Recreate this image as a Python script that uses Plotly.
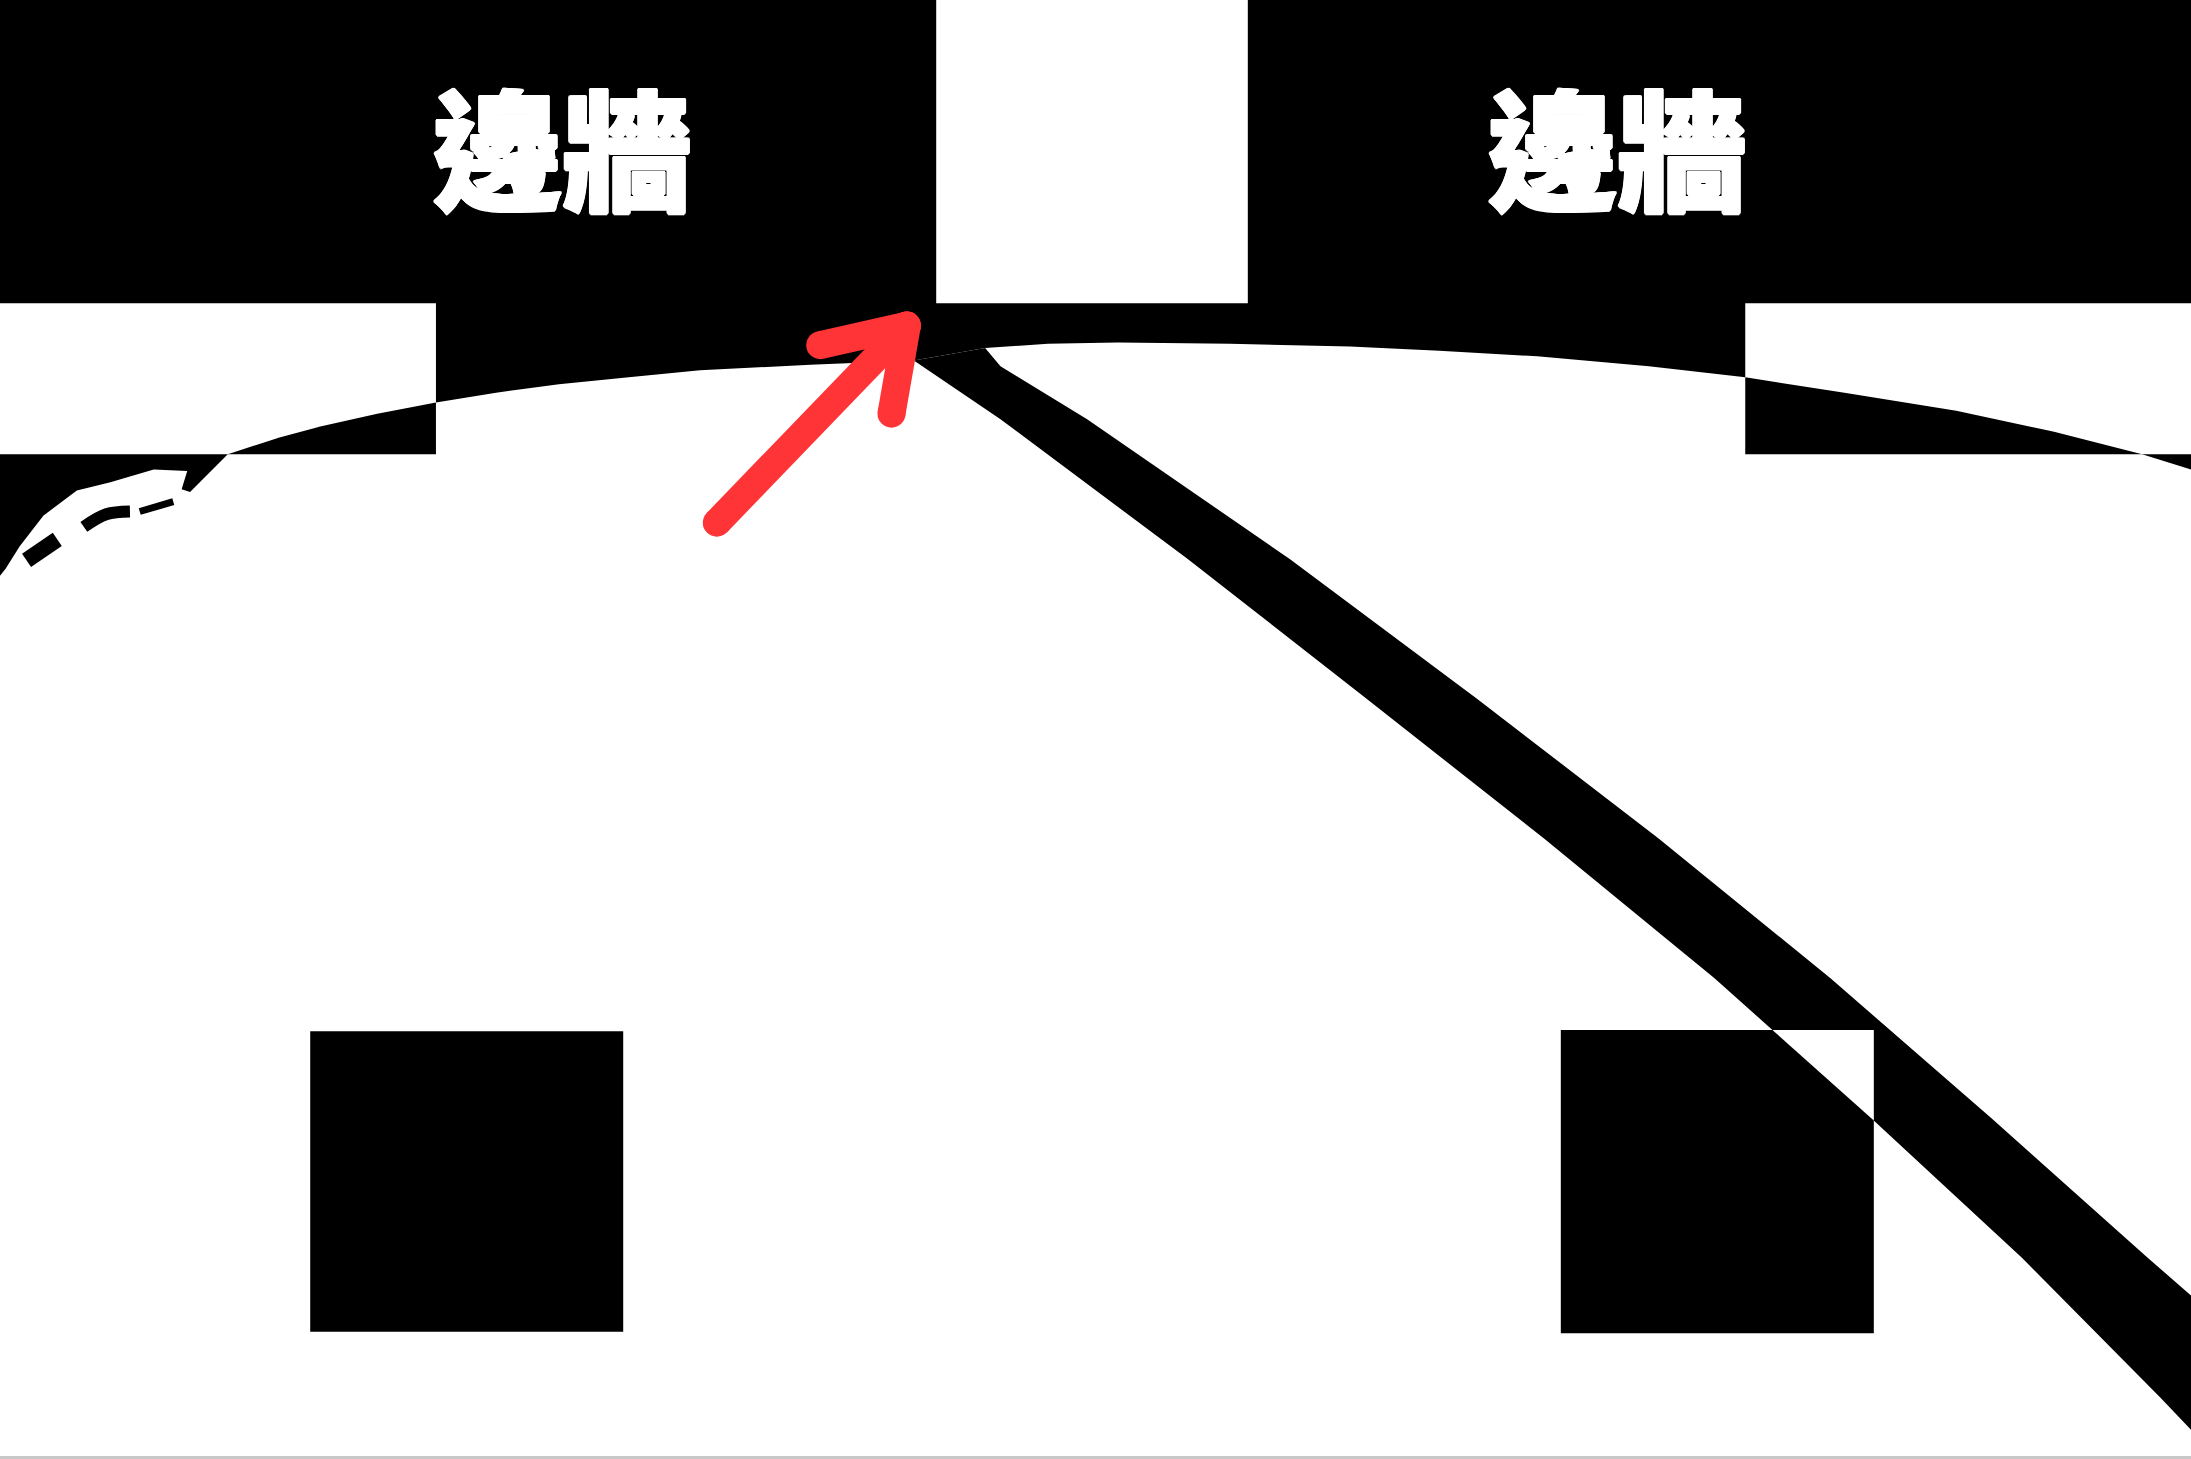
import plotly.graph_objects as go

# picture units: 1568 x 1044 (scaled onto a 2191 x 1459 page)
W, H = 1568, 1044

# wall label
wall_text = "邊牆"
wall_text_x = [402, 1157]
wall_text_y = [102, 102]

# white openings in the black wall
gap_x0 = [0, 1249, 670]
gap_x1 = [312, 1568, 893]
gap_y0 = [217, 217, 0]
gap_y1 = [325, 325, 217]

# ragged left edge of the lit floor
wedge_x = [0, 4, 14, 31, 55, 79, 110, 134, 130, 136, 163]
wedge_y = [412, 407, 391, 369, 351, 345, 336, 337, 350, 352, 325]

# top edge of the lit floor, left and right of the path
left_arc_x = [163, 200, 230, 270, 312, 355, 400, 450, 501, 580, 654]
left_arc_y = [325, 313, 305, 296, 288, 281, 275, 270, 265, 261, 258]
right_arc_x = [705, 750, 800, 880, 966, 1030, 1100, 1180, 1249, 1320, 1400, 1470, 1533, 1568]
right_arc_y = [249, 246, 245, 246, 248, 251, 255, 262, 270, 281, 294, 309, 325, 336]

# small black flecks inside the ragged edge
fleck_x = [[124, 100], [93, 76, 60], [41, 19]]
fleck_y = [[359, 366], [366, 368, 377], [386, 401]]
fleck_w = [7, 12, 16]

# black blocks on the floor
block_x0 = [222, 1117]
block_x1 = [446, 1341]
block_y0 = [738, 737]
block_y1 = [953, 954]

# the curved path, both edges
path_left_x = [654, 716, 850, 978, 1105, 1227, 1339, 1447, 1546, 1568]
path_left_y = [258, 300, 400, 500, 600, 700, 800, 900, 1000, 1023]
path_right_x = [705, 716, 778, 923, 1057, 1187, 1310, 1425, 1537, 1568]
path_right_y = [249, 262, 300, 400, 500, 600, 700, 800, 900, 927]

# red arrow
arrow_tail = (513, 374)
arrow_tip = (649, 233)
arrow_arm_a = (587, 247)
arrow_arm_b = (638, 296)
RED = "#fe3436"


def clip_to_box(pts, x0, x1, y0, y1):
    # Sutherland-Hodgman against an axis aligned box
    def cut(pts, axis, val, keep_greater):
        out = []
        n = len(pts)
        for i in range(n):
            a = pts[i]
            b = pts[(i + 1) % n]
            ina = a[axis] >= val if keep_greater else a[axis] <= val
            inb = b[axis] >= val if keep_greater else b[axis] <= val
            if ina:
                out.append(a)
            if ina != inb:
                t = (val - a[axis]) / (b[axis] - a[axis])
                out.append((a[0] + t * (b[0] - a[0]), a[1] + t * (b[1] - a[1])))
        return out

    pts = cut(pts, 0, x0, True)
    pts = cut(pts, 0, x1, False)
    pts = cut(pts, 1, y0, True)
    pts = cut(pts, 1, y1, False)
    return pts


def poly(fig, xs, ys, color):
    fig.add_trace(go.Scatter(x=list(xs) + [xs[0]], y=list(ys) + [ys[0]],
                             mode='lines', fill='toself', fillcolor=color,
                             line=dict(width=0), hoverinfo='skip'))


def box(fig, x0, x1, y0, y1, color):
    poly(fig, [x0, x1, x1, x0], [y0, y0, y1, y1], color)


def red_line(fig, a, b):
    fig.add_trace(go.Scatter(x=[a[0], b[0]], y=[a[1], b[1]], mode='lines+markers',
                             line=dict(color=RED, width=28),
                             marker=dict(color=RED, size=28, line=dict(width=0)),
                             hoverinfo='skip'))


fig = go.Figure()

# openings in the wall
for i in range(len(gap_x0)):
    box(fig, gap_x0[i], gap_x1[i], gap_y0[i], gap_y1[i], 'white')

# lit floor
dome_x = [0] + wedge_x + left_arc_x[1:] + right_arc_x + [W]
dome_y = [H] + wedge_y + left_arc_y[1:] + right_arc_y + [H]
poly(fig, dome_x, dome_y, 'white')

# floor under the white openings turns black
sl_x = [x for x in left_arc_x if x <= 312]
sl_y = left_arc_y[:len(sl_x)]
poly(fig, sl_x + [312], sl_y + [325], 'black')
sr = [i for i, x in enumerate(right_arc_x) if 1249 <= x <= 1533]
poly(fig, [right_arc_x[i] for i in sr] + [1249],
      [right_arc_y[i] for i in sr] + [325], 'black')

# flecks
for fx, fy, fw in zip(fleck_x, fleck_y, fleck_w):
    fig.add_trace(go.Scatter(x=fx, y=fy, mode='lines',
                             line=dict(color='black', width=fw, shape='spline'),
                             hoverinfo='skip'))

# blocks
for i in range(len(block_x0)):
    box(fig, block_x0[i], block_x1[i], block_y0[i], block_y1[i], 'black')

# path
path_pts = list(zip(path_left_x, path_left_y)) + list(zip(path_right_x, path_right_y))[::-1]
poly(fig, [p[0] for p in path_pts], [p[1] for p in path_pts], 'black')

# path over a block shows white
for i in range(len(block_x0)):
    over = clip_to_box(path_pts, block_x0[i], block_x1[i], block_y0[i], block_y1[i])
    if len(over) >= 3:
        poly(fig, [p[0] for p in over], [p[1] for p in over], 'white')

# arrow
red_line(fig, arrow_tail, arrow_tip)
red_line(fig, arrow_arm_a, arrow_tip)
red_line(fig, arrow_arm_b, arrow_tip)

# bottom border
fig.add_trace(go.Scatter(x=[0, W], y=[H - 1, H - 1], mode='lines',
                         line=dict(color='#c8c8c8', width=3), hoverinfo='skip'))

# heavy brush-like label: thicken the glyphs with a tight white halo
halo = ", ".join(f"{dx}px {dy}px 0 white" for dx, dy in
                 [(1.5, 0), (-1.5, 0), (0, 1.5), (0, -1.5),
                  (1, 1), (-1, -1), (1, -1), (-1, 1)])
for tx, ty in zip(wall_text_x, wall_text_y):
    fig.add_annotation(x=tx, y=ty, xref='x', yref='y', text=wall_text, showarrow=False,
                       font=dict(family='Noto Sans CJK TC', size=130, color='white',
                                 weight=900, shadow=halo))

fig.update_layout(
    width=2191, height=1459,
    margin=dict(l=0, r=0, t=0, b=0),
    paper_bgcolor='black', plot_bgcolor='black',
    showlegend=False, hovermode=False,
    xaxis=dict(range=[0, W], visible=False, fixedrange=True),
    yaxis=dict(range=[H, 0], visible=False, fixedrange=True),
)

fig.write_html("out.html", config={'displayModeBar': False},
               post_script="document.body.style.margin='0';document.body.style.overflow='hidden';")
